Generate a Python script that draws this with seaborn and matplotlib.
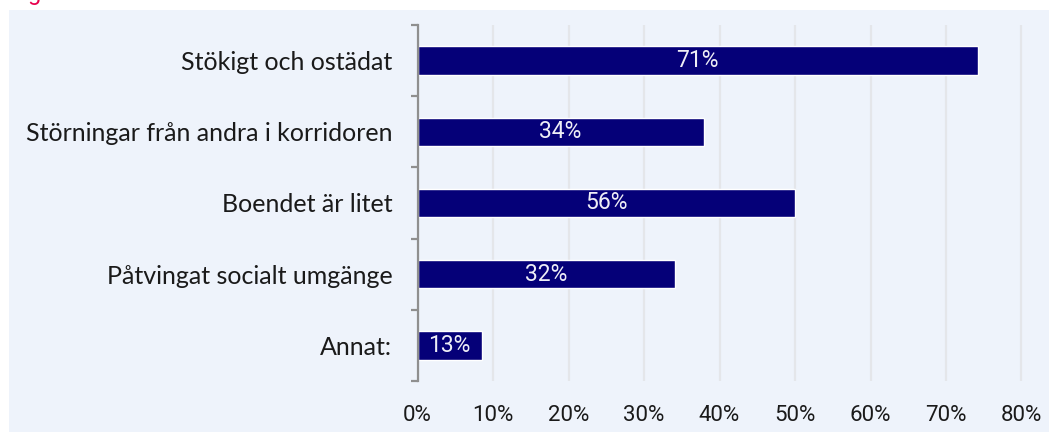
import numpy as np
import pandas as pd
import seaborn as sns
import matplotlib.pyplot as plt
from matplotlib.patches import Rectangle
from matplotlib.ticker import PercentFormatter, FixedLocator

# data
categories = ['Stökigt och ostädat', 'Störningar från andra i korridoren',
              'Boendet är litet', 'Påtvingat socialt umgänge', 'Annat:']
bar_values = [0.742, 0.379, 0.500, 0.341, 0.085]   # bar lengths as drawn
bar_labels = ['71%', '34%', '56%', '32%', '13%']    # texts printed in bars
x_ticks = [0, 0.1, 0.2, 0.3, 0.4, 0.5, 0.6, 0.7, 0.8]

df = pd.DataFrame({'kategori': categories, 'andel': bar_values})

navy = '#050078'
panel = '#eef3fb'

sns.set_theme(style='white')
plt.rcParams['font.family'] = ['Roboto', 'DejaVu Sans']

fig = plt.figure(figsize=(10.49, 4.32), dpi=100, facecolor='white')
# light panel behind the chart
fig.patches.append(Rectangle((9 / 1049, 0), 1, 1 - 10 / 432, transform=fig.transFigure,
                             facecolor=panel, edgecolor='none', zorder=-10))
# cut-off red heading above the panel (the reference is cropped here too)
fig.text(28 / 1049, 1.0, 'g', color='#e8004c', fontsize=17, va='baseline')

ax = fig.add_axes([417.5 / 1049, 1 - 381 / 432, (0.803 * 755) / 1049, 356 / 432])
ax.set_facecolor('none')

sns.barplot(data=df, y='kategori', x='andel', orient='h', color=navy,
            saturation=1, width=0.40, ax=ax)

ax.bar_label(ax.containers[0], labels=bar_labels, label_type='center',
             color='#eeeef6', fontsize=16.5)

ax.set_xlim(0, 0.803)
ax.set_ylim(4.5, -0.5)
ax.xaxis.set_major_locator(FixedLocator(x_ticks))
ax.xaxis.set_major_formatter(PercentFormatter(1.0, decimals=0))
ax.grid(axis='x', color='#e4e6ea', linewidth=1.6)
ax.set_axisbelow(True)

ax.set_xlabel('')
ax.set_ylabel('')
for side in ['top', 'right', 'bottom']:
    ax.spines[side].set_visible(False)
ax.spines['left'].set_color('#8f8f8f')
ax.spines['left'].set_linewidth(1.6)

ax.tick_params(axis='x', length=0, pad=17, labelsize=16, labelcolor='#1a1a1a')
ax.tick_params(axis='y', which='major', length=0, pad=18)
ax.set_yticks(np.arange(-0.5, 5, 1), minor=True)
ax.tick_params(axis='y', which='minor', left=True, length=5, width=1.6, color='#8f8f8f')
for lab in ax.get_yticklabels():
    lab.set_fontfamily(['Lato', 'DejaVu Sans'])
    lab.set_fontsize(18)
    lab.set_color('#1a1a1a')

fig.savefig('out.png', dpi=100, facecolor='white')
